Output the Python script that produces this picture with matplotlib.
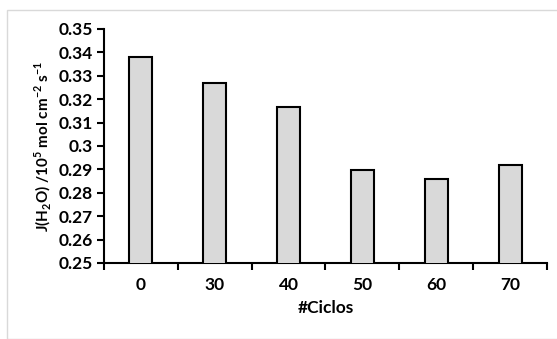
import numpy as np
import matplotlib.pyplot as plt
from matplotlib.patches import Rectangle

# --- data ---
ciclos = ['0', '30', '40', '50', '60', '70']
flux = [0.3382, 0.3268, 0.3165, 0.2896, 0.2858, 0.2918]
yticks = np.round(np.arange(0.25, 0.3501, 0.01), 2)

plt.rcParams['font.family'] = ['Lato', 'DejaVu Sans']
plt.rcParams['mathtext.fontset'] = 'custom'
plt.rcParams['mathtext.rm'] = 'Lato:bold'
plt.rcParams['mathtext.bf'] = 'Lato:bold'

fig = plt.figure(figsize=(5.57, 3.39), dpi=100)
ax = fig.add_axes([0.1867, 0.2242, 0.7953, 0.6903])

# light gray chart frame
fig.patches.append(Rectangle((7 / 557, 0), 1, 1 - 10 / 339, transform=fig.transFigure,
                             fill=False, edgecolor='#d9d9d9', linewidth=1))

x = np.arange(len(ciclos))
ax.bar(x, flux, width=0.31, color='#d9d9d9', edgecolor='black', linewidth=1.5, zorder=3)

ax.set_xlim(-0.5, len(ciclos) - 0.5)
ax.set_ylim(0.25, 0.35)
ax.set_yticks(yticks)
ax.set_yticklabels([f'{v:g}' for v in yticks], fontsize=12.5, fontweight='bold')

# category labels between the tick marks
ax.set_xticks(np.arange(-0.5, len(ciclos)), minor=False)
ax.set_xticklabels([])
ax.set_xticks(x, minor=True)
ax.set_xticklabels(ciclos, minor=True, fontsize=12.5, fontweight='bold')
ax.tick_params(axis='x', which='minor', length=0, pad=10)
ax.tick_params(axis='x', which='major', length=5, width=1.5, direction='out')
ax.tick_params(axis='y', length=5, width=1.5, direction='out', pad=3)

for s in ['top', 'right']:
    ax.spines[s].set_visible(False)
for s in ['left', 'bottom']:
    ax.spines[s].set_linewidth(1.5)

ax.set_xlabel('#Ciclos', fontsize=12.5, fontweight='bold', labelpad=5)
ax.set_ylabel(r'J(H$_\mathrm{2}$O) /10$^\mathrm{5}$ mol cm$^\mathrm{-2}$ s$^\mathrm{-1}$',
              fontsize=11, fontweight='bold', labelpad=4)

fig.savefig('out.png', dpi=100)
